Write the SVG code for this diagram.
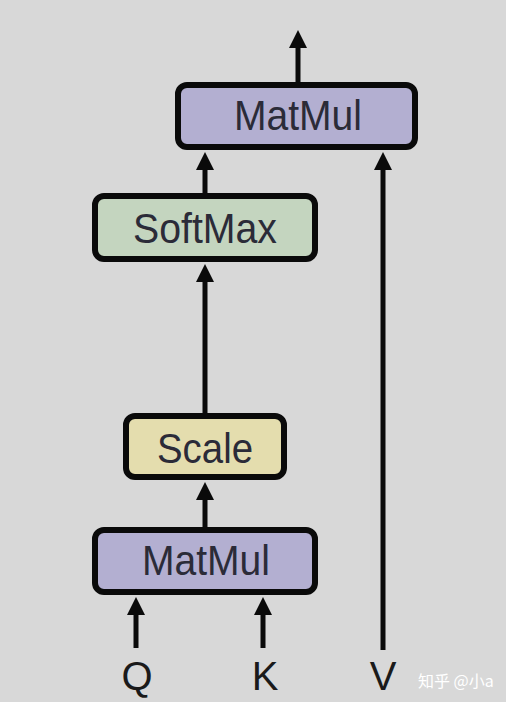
<svg xmlns="http://www.w3.org/2000/svg" width="506" height="702" viewBox="0 0 506 702">
<style>
.bg{fill:#d8d8d8}
.box{stroke:#0a0a0a;stroke-width:6}
.mm{fill:#b3afd1}
.sm{fill:#c4d5bf}
.sc{fill:#e4ddae}
.lbl{font-family:"Liberation Sans",Arial,sans-serif;font-size:42px;fill:#2b2b38;text-anchor:middle}
.io{font-family:"Liberation Sans",Arial,sans-serif;font-size:40px;fill:#1a1a1a;text-anchor:middle}
.edge{stroke:#0a0a0a;stroke-width:5;fill:none;marker-end:url(#ah)}
.wm{font-family:"Noto Sans CJK SC","Liberation Sans",sans-serif;font-size:16px;fill:#ffffff}
</style>
<defs>
<marker id="ah" viewBox="0 0 18 18" refX="8" refY="9" markerWidth="18" markerHeight="18" markerUnits="userSpaceOnUse" orient="auto">
<path d="M0,0 L18,9 L0,18 z" fill="#0a0a0a"/>
</marker>
</defs>
<rect class="bg" x="0" y="0" width="506" height="702"/>
<g id="connectors">
<path class="edge" d="M298,84 L298,40"/>
<path class="edge" d="M205,195 L205,162"/>
<path class="edge" d="M205,415 L205,274"/>
<path class="edge" d="M205,529 L205,492"/>
<path class="edge" d="M136,648 L136,607"/>
<path class="edge" d="M263,648 L263,607"/>
<path class="edge" d="M383,650 L383,162"/>
</g>
<g id="matmul-top">
<rect class="box mm" x="178" y="85" width="237" height="62" rx="9"/>
<text class="lbl" x="298" y="130" textLength="128" lengthAdjust="spacingAndGlyphs">MatMul</text>
</g>
<g id="softmax">
<rect class="box sm" x="95" y="196" width="220" height="63" rx="9"/>
<text class="lbl" x="205" y="243" textLength="144" lengthAdjust="spacingAndGlyphs">SoftMax</text>
</g>
<g id="scale">
<rect class="box sc" x="126" y="416" width="158" height="61" rx="9"/>
<text class="lbl" x="205" y="463" textLength="96" lengthAdjust="spacingAndGlyphs">Scale</text>
</g>
<g id="matmul-bottom">
<rect class="box mm" x="95" y="530" width="220" height="62" rx="9"/>
<text class="lbl" x="206" y="575" textLength="128" lengthAdjust="spacingAndGlyphs">MatMul</text>
</g>
<g id="q"><text class="io" x="137" y="690">Q</text></g>
<g id="k"><text class="io" x="265" y="690">K</text></g>
<g id="v"><text class="io" x="383" y="690">V</text></g>
<text class="wm" x="418" y="687">知乎 @小a</text>
</svg>
